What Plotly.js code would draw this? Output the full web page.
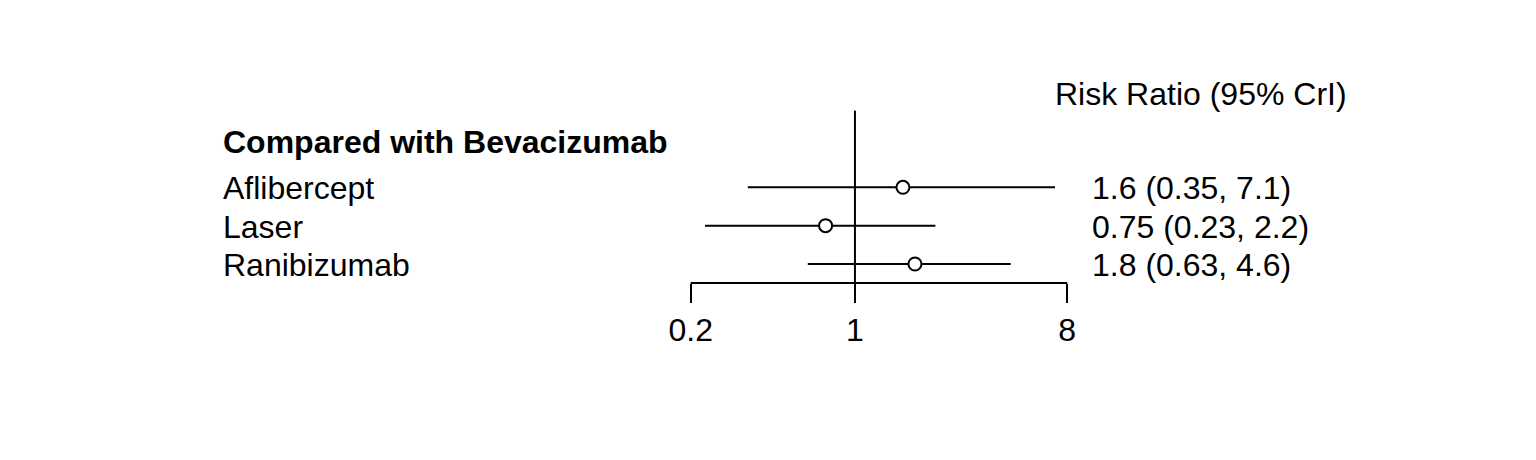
<!DOCTYPE html>
<html>
<head>
<meta charset="utf-8">
<script src="https://cdn.plot.ly/plotly-3.0.1.min.js"></script>
<style>html,body{margin:0;padding:0;background:#fff;}#chart{width:1536px;height:460px;}</style>
</head>
<body>
<div id="chart"></div>
<script>
// ---- data ----
var treatments = ['Aflibercept', 'Laser', 'Ranibizumab'];
var riskRatio = [1.6, 0.75, 1.8];
var lowerCrI = [0.35, 0.23, 0.63];
var upperCrI = [7.1, 2.2, 4.6];
var rowPos = [3, 2, 1];
var tickVals = [0.2, 1, 8];
var tickText = ['0.2', '1', '8'];
var headerText = 'Compared with Bevacizumab';
var columnTitle = 'Risk Ratio (95% CrI)';

// ---- layout constants ----
var W = 1536, H = 460;
var FONT = 'Liberation Sans, Arial, sans-serif';
var FS = 32;

var segX = [], segY = [];
for (var i = 0; i < treatments.length; i++) {
  segX.push(lowerCrI[i], upperCrI[i], null);
  segY.push(rowPos[i], rowPos[i], null);
}

var traces = [
  {type: 'scatter', mode: 'lines', x: segX, y: segY,
   line: {color: '#000', width: 2}, hoverinfo: 'skip', showlegend: false},
  {type: 'scatter', mode: 'markers', x: riskRatio, y: rowPos,
   marker: {symbol: 'circle', size: 13, color: '#fff', line: {color: '#000', width: 2}},
   showlegend: false}
];

var annotations = [];
for (var j = 0; j < treatments.length; j++) {
  annotations.push({xref: 'paper', yref: 'y', x: 221 / W, y: rowPos[j], xanchor: 'left', yanchor: 'middle',
    yshift: -1, text: treatments[j], showarrow: false, font: {family: FONT, size: FS, color: '#000'}});
  annotations.push({xref: 'paper', yref: 'y', x: 1090 / W, y: rowPos[j], xanchor: 'left', yanchor: 'middle',
    yshift: -1, text: riskRatio[j] + ' (' + lowerCrI[j] + ', ' + upperCrI[j] + ')', showarrow: false,
    font: {family: FONT, size: FS, color: '#000'}});
}
annotations.push({xref: 'paper', yref: 'y', x: 221 / W, y: 4.207, xanchor: 'left', yanchor: 'middle',
  yshift: -1, text: '<b>' + headerText + '</b>', showarrow: false, font: {family: FONT, size: FS, color: '#000'}});
annotations.push({xref: 'paper', yref: 'y', x: 1053 / W, y: 5.459, xanchor: 'left', yanchor: 'middle',
  yshift: -1, text: columnTitle, showarrow: false, font: {family: FONT, size: FS, color: '#000'}});

var layout = {
  width: W, height: H,
  margin: {l: 0, r: 0, t: 40, b: 177, pad: 0},
  paper_bgcolor: '#fff', plot_bgcolor: '#fff',
  showlegend: false,
  xaxis: {type: 'log', range: [-3.638, 2.898], showgrid: false, zeroline: false, showline: false,
    tickvals: tickVals, ticktext: tickText, ticks: 'outside', ticklen: 19, tickwidth: 2, tickcolor: '#000',
    tickfont: {family: FONT, size: FS, color: '#000'}, fixedrange: true},
  yaxis: {range: [0.5046, 6.841], showgrid: false, zeroline: false, showline: false, showticklabels: false,
    ticks: '', fixedrange: true},
  shapes: [
    {type: 'line', xref: 'x', yref: 'paper', x0: tickVals[0], x1: tickVals[tickVals.length - 1], y0: 0, y1: 0,
     line: {color: '#000', width: 2}},
    {type: 'line', xref: 'x', yref: 'y', x0: 1, x1: 1, y0: 5.0, y1: 0.5046,
     line: {color: '#000', width: 2}, layer: 'below'}
  ],
  annotations: annotations
};

Plotly.newPlot('chart', traces, layout, {displayModeBar: false, staticPlot: true});
</script>
</body>
</html>
